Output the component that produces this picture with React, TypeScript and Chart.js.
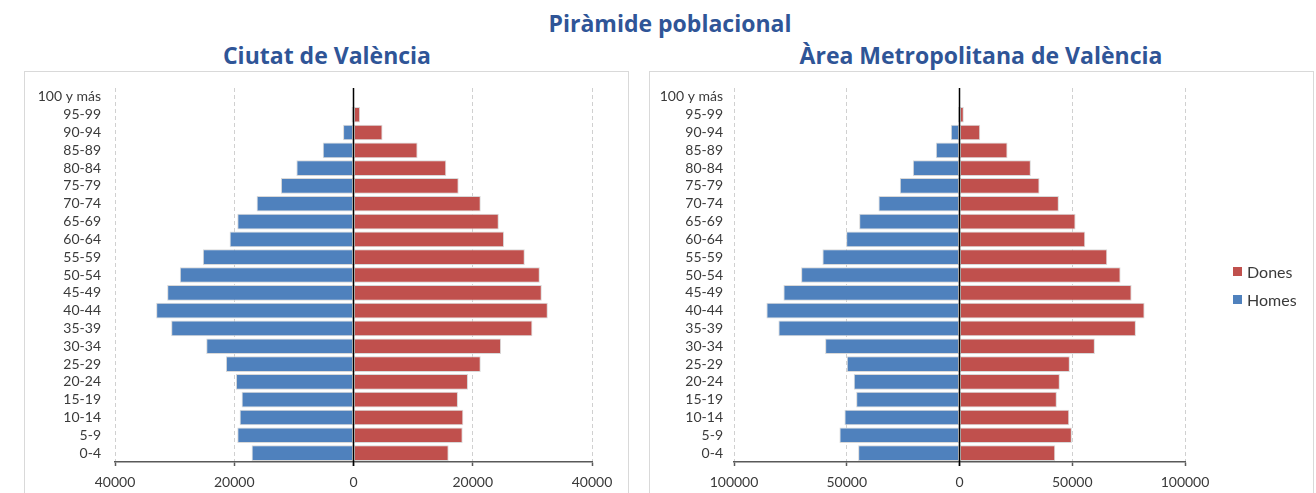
import React, { useEffect, useRef } from 'react';
import { Chart, registerables } from 'chart.js';

Chart.register(...registerables);

// ---- Data ----
const AGE_GROUPS = ['0-4', '5-9', '10-14', '15-19', '20-24', '25-29', '30-34', '35-39', '40-44', '45-49', '50-54', '55-59', '60-64', '65-69', '70-74', '75-79', '80-84', '85-89', '90-94', '95-99', '100 y más'];

const CITY_HOMES = [17090, 19490, 19100, 18770, 19720, 21400, 24700, 30580, 33100, 31250, 29130, 25270, 20780, 19490, 16250, 12170, 9580, 5160, 1750, 340, 0];
const CITY_DONES = [15960, 18310, 18420, 17520, 19200, 21340, 24750, 30010, 32590, 31580, 31250, 28730, 25250, 24370, 21340, 17640, 15560, 10750, 4870, 1110, 0];

const METRO_HOMES = [44950, 53240, 51030, 45830, 46900, 50000, 59590, 80310, 85630, 78090, 70240, 60790, 50270, 44500, 35940, 26480, 20700, 10500, 3860, 700, 0];
const METRO_DONES = [42460, 49830, 48670, 43170, 44500, 48940, 60040, 78230, 82080, 76320, 71440, 65530, 55770, 51470, 44060, 35500, 31640, 21300, 9180, 1910, 0];

const CITY_AXIS = [-40000, 40000, 20000];
const METRO_AXIS = [-100000, 100000, 50000];

const SERIES_NAMES = ['Dones', 'Homes'];

const MAIN_TITLE = 'Piràmide poblacional';
const CITY_TITLE = 'Ciutat de València';
const METRO_TITLE = 'Àrea Metropolitana de València';

// ---- Styles ----
const RED = '#C0504D';
const BLUE = '#4F81BD';
const EDGE = '#D9D9D9';
const TEXT = '#3A3A3A';
const TITLE_BLUE = '#2F5597';
const FONT = 'Lato, "Open Sans", sans-serif';
const TITLE_FONT = '"Open Sans", Lato, sans-serif';

const zeroLine = {
  id: 'zeroLine',
  afterDatasetsDraw(chart: any) {
    const x = chart.scales.x.getPixelForValue(0);
    const { top, bottom } = chart.chartArea;
    const ctx = chart.ctx;
    ctx.save();
    ctx.strokeStyle = '#000';
    ctx.lineWidth = 1.5;
    ctx.beginPath();
    ctx.moveTo(x, top);
    ctx.lineTo(x, bottom + 4);
    ctx.stroke();
    ctx.restore();
  },
};

type PyramidProps = {
  homes: number[];
  dones: number[];
  axis: number[];
  width: number;
  height: number;
  yWidth: number;
  labelPad: number;
  padRight: number;
};

function Pyramid({ homes, dones, axis, width, height, yWidth, labelPad, padRight }: PyramidProps) {
  const ref = useRef<HTMLCanvasElement>(null);
  useEffect(() => {
    const font = { family: FONT, size: 14 };
    const chart = new Chart(ref.current as HTMLCanvasElement, {
      type: 'bar',
      data: {
        labels: AGE_GROUPS,
        datasets: [
          {
            label: SERIES_NAMES[0],
            data: dones,
            backgroundColor: RED,
            borderColor: EDGE,
            borderWidth: 1,
            borderSkipped: false,
            barPercentage: 0.88,
            categoryPercentage: 1,
          },
          {
            label: SERIES_NAMES[1],
            data: homes.map((v) => -v),
            backgroundColor: BLUE,
            borderColor: EDGE,
            borderWidth: 1,
            borderSkipped: false,
            barPercentage: 0.88,
            categoryPercentage: 1,
          },
        ],
      },
      options: {
        indexAxis: 'y',
        responsive: false,
        maintainAspectRatio: false,
        animation: false,
        layout: { padding: { left: 0, right: padRight, top: 16, bottom: 0 } },
        plugins: {
          legend: { display: false },
          tooltip: { enabled: false },
          title: { display: false },
        },
        scales: {
          x: {
            stacked: true,
            min: axis[0],
            max: axis[1],
            ticks: {
              stepSize: axis[2],
              callback: (v: any) => String(Math.abs(Number(v))),
              color: TEXT,
              font,
              padding: 8,
              maxRotation: 0,
              autoSkip: false,
            },
            grid: {
              color: (c: any) => (c.tick && c.tick.value === 0 ? 'rgba(0,0,0,0)' : '#D0D0D0'),
              lineWidth: 1,
              tickColor: '#595959',
              tickLength: 4,
              tickWidth: 1.5,
            },
            border: { display: true, color: '#595959', width: 1.5, dash: [4, 3] },
            afterFit: (s: any) => {
              s.height = 32;
            },
          },
          y: {
            stacked: true,
            reverse: true,
            grid: { display: false, drawTicks: false },
            border: { display: false },
            ticks: { autoSkip: false, color: TEXT, font, padding: labelPad },
            afterFit: (s: any) => {
              s.width = yWidth;
              s.paddingTop = 0;
              s.paddingBottom = 0;
            },
          },
        },
      } as any,
      plugins: [zeroLine],
    });
    return () => chart.destroy();
  }, []);
  return <canvas ref={ref} width={width} height={height} style={{ position: 'absolute', left: 0, top: 0, width, height }} />;
}

const titleStyle: React.CSSProperties = {
  position: 'absolute',
  fontFamily: TITLE_FONT,
  fontWeight: 700,
  fontSize: 23,
  lineHeight: '30px',
  color: TITLE_BLUE,
  textAlign: 'center',
  whiteSpace: 'nowrap',
};

export default function App() {
  return (
    <div style={{ position: 'absolute', left: 0, top: 0, width: 1316, height: 493, background: '#fff', overflow: 'hidden' }}>
      <div style={{ ...titleStyle, left: 420, width: 500, top: 7.8 }}>{MAIN_TITLE}</div>
      <div style={{ ...titleStyle, left: 77, width: 500, top: 40.4 }}>{CITY_TITLE}</div>
      <div style={{ ...titleStyle, left: 681, width: 600, top: 40.4 }}>{METRO_TITLE}</div>

      <div style={{ position: 'absolute', left: 24, top: 71, width: 605, height: 440, boxSizing: 'border-box', border: '1px solid #D9D9D9' }}>
        <Pyramid homes={CITY_HOMES} dones={CITY_DONES} axis={CITY_AXIS} width={605} height={422} yWidth={90} labelPad={14} padRight={38} />
      </div>

      <div style={{ position: 'absolute', left: 649, top: 71, width: 665, height: 440, boxSizing: 'border-box', border: '1px solid #D9D9D9' }}>
        <Pyramid homes={METRO_HOMES} dones={METRO_DONES} axis={METRO_AXIS} width={665} height={422} yWidth={84} labelPad={11} padRight={130} />
      </div>

      {[RED, BLUE].map((c, i) => (
        <div key={i} style={{ position: 'absolute', left: 1233, top: 262 + i * 28, height: 18, display: 'flex', alignItems: 'center', fontFamily: FONT, fontSize: 16, color: TEXT }}>
          <span style={{ display: 'inline-block', width: 9, height: 9, background: c, marginRight: 5 }} />
          <span>{SERIES_NAMES[i]}</span>
        </div>
      ))}
    </div>
  );
}
